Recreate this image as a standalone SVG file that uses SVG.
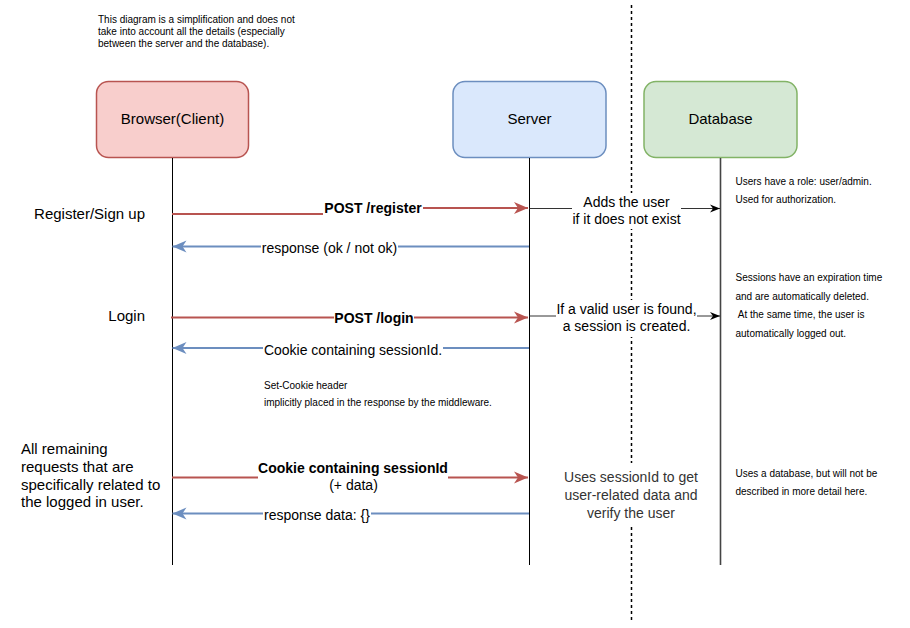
<svg xmlns="http://www.w3.org/2000/svg" width="910" height="628" viewBox="0 0 910 628">
<style>
text{font-family:"Liberation Sans",Arial,sans-serif;fill:#000}
.t15{font-size:15px}
.t14{font-size:14px}
.t10{font-size:10px}
.b{font-weight:bold}
.mid{text-anchor:middle}
.end{text-anchor:end}
.gray{fill:#333333}
.life{stroke:#000;stroke-width:1;fill:none}
.red{stroke:#b85450;stroke-width:2;fill:none}
.blue{stroke:#6c8ebf;stroke-width:2;fill:none}
.blk{stroke:#333;stroke-width:1;fill:none}
.bg{fill:#fff}
</style>
<defs>
<marker id="arRed" viewBox="0 0 16 14" refX="15" refY="7" markerWidth="16" markerHeight="14" orient="auto" markerUnits="userSpaceOnUse">
<path d="M1,1 L15,7 L1,13 L5,7 Z" fill="#b85450"/>
</marker>
<marker id="arBlue" viewBox="0 0 16 14" refX="15" refY="7" markerWidth="16" markerHeight="14" orient="auto" markerUnits="userSpaceOnUse">
<path d="M1,1 L15,7 L1,13 L5,7 Z" fill="#6c8ebf"/>
</marker>
<marker id="arBlk" viewBox="0 0 12 10" refX="11" refY="5" markerWidth="12" markerHeight="10" orient="auto" markerUnits="userSpaceOnUse">
<path d="M1,1 L11,5 L1,9 L4,5 Z" fill="#000"/>
</marker>
</defs>
<rect width="910" height="628" fill="#fff"/>

<g id="note-top">
<text class="t10" x="98" y="23">This diagram is a simplification and does not</text>
<text class="t10" x="98" y="35">take into account all the details (especially</text>
<text class="t10" x="98" y="47">between the server and the database).</text>
</g>

<g id="browser">
<rect x="96.5" y="81.5" width="152" height="76" rx="12" fill="#f8cecc" stroke="#b85450" stroke-width="1.5"/>
<text class="t15 mid" x="172.5" y="124">Browser(Client)</text>
<line class="life" x1="172.5" y1="158" x2="172.5" y2="565"/>
</g>

<g id="server">
<rect x="453" y="81.5" width="153" height="76" rx="12" fill="#dae8fc" stroke="#6c8ebf" stroke-width="1.5"/>
<text class="t15 mid" x="529.5" y="124">Server</text>
<line class="life" x1="529.5" y1="158" x2="529.5" y2="565"/>
</g>

<g id="database">
<rect x="644" y="81.5" width="153" height="76" rx="12" fill="#d5e8d4" stroke="#82b366" stroke-width="1.5"/>
<text class="t15 mid" x="720.5" y="124">Database</text>
<line x1="720.5" y1="158" x2="720.5" y2="565" stroke="#444" stroke-width="1.6"/>
</g>

<g id="divider">
<line x1="631.5" y1="5" x2="631.5" y2="620" stroke="#000" stroke-width="1.5" stroke-dasharray="3 3"/>
</g>

<g id="connectors">
<path class="red" d="M172,214 H373 V208 H528" marker-end="url(#arRed)"/>
<path class="blue" d="M529,246.5 H172.5" marker-end="url(#arBlue)"/>
<path class="red" d="M171,317.5 H528" marker-end="url(#arRed)"/>
<path class="blue" d="M529,348 H172.5" marker-end="url(#arBlue)"/>
<path class="red" d="M172,477.5 H528" marker-end="url(#arRed)"/>
<path class="blue" d="M529,513.5 H172.5" marker-end="url(#arBlue)"/>
<path class="blk" d="M529.5,208.5 H720" marker-end="url(#arBlk)"/>
<path class="blk" d="M529.5,316 H720" marker-end="url(#arBlk)"/>
</g>

<g id="labels">
<rect class="bg" x="323" y="200" width="100" height="16"/>
<text class="t14 b mid" x="373" y="213">POST /register</text>
<rect class="bg" x="261" y="239" width="137" height="17"/>
<text class="t14 mid" x="329.5" y="253">response (ok / not ok)</text>
<rect class="bg" x="334" y="309" width="80" height="17"/>
<text class="t14 b mid" x="374" y="323">POST /login</text>
<rect class="bg" x="263" y="341" width="180" height="17"/>
<text class="t14 mid" x="353" y="355">Cookie containing sessionId.</text>
<rect class="bg" x="258" y="460" width="190" height="34"/>
<text class="t14 b mid" x="353" y="473">Cookie containing sessionId</text>
<text class="t14 mid" x="353.5" y="490">(+ data)</text>
<rect class="bg" x="263" y="506" width="108" height="17"/>
<text class="t14 mid" x="317" y="520">response data: {}</text>
<rect class="bg" x="572" y="193" width="109" height="36"/>
<text class="t14 mid" x="626.5" y="207">Adds the user</text>
<text class="t14 mid" x="626.5" y="224">if it does not exist</text>
<rect class="bg" x="556" y="300" width="141" height="37"/>
<text class="t14 mid" x="626.5" y="314">If a valid user is found,</text>
<text class="t14 mid" x="626.5" y="331">a session is created.</text>
<rect class="bg" x="559" y="463" width="144" height="64"/>
<text class="t14 mid gray" x="631" y="482">Uses sessionId to get</text>
<text class="t14 mid gray" x="631" y="500">user-related data and</text>
<text class="t14 mid gray" x="631" y="518">verify the user</text>
</g>

<g id="step-labels">
<text class="t15 end" x="145" y="219">Register/Sign up</text>
<text class="t15 end" x="145" y="321">Login</text>
<text class="t15" x="21" y="454">All remaining</text>
<text class="t15" x="21" y="472">requests that are</text>
<text class="t15" x="21" y="489.5">specifically related to</text>
<text class="t15" x="21" y="507">the logged in user.</text>
</g>

<g id="middleware-note">
<text class="t10" x="264" y="389">Set-Cookie header</text>
<text class="t10" x="264" y="406">implicitly placed in the response by the middleware.</text>
</g>

<g id="db-notes">
<text class="t10" x="735.5" y="185">Users have a role: user/admin.</text>
<text class="t10" x="735.5" y="203">Used for authorization.</text>
<text class="t10" x="735.5" y="281">Sessions have an expiration time</text>
<text class="t10" x="735.5" y="300">and are automatically deleted.</text>
<text class="t10" x="735.5" y="318" xml:space="preserve"> At the same time, the user is</text>
<text class="t10" x="735.5" y="337">automatically logged out.</text>
<text class="t10" x="735.5" y="477">Uses a database, but will not be</text>
<text class="t10" x="735.5" y="495">described in more detail here.</text>
</g>
</svg>
